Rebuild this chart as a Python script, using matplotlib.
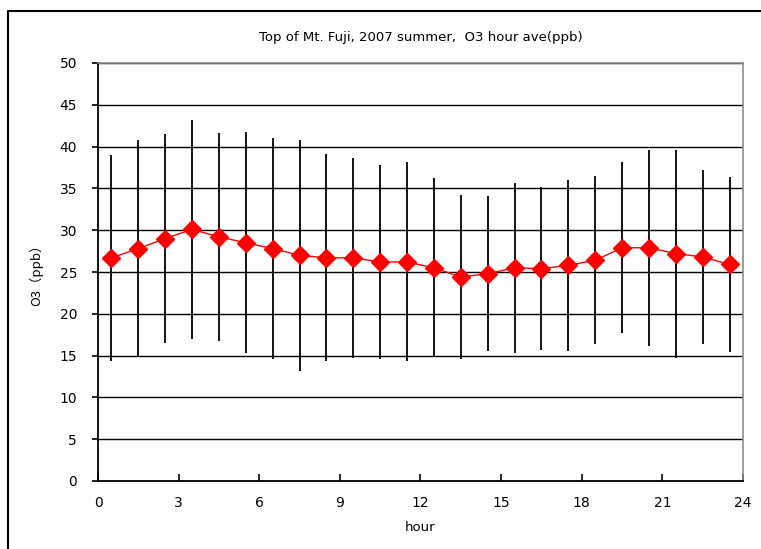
import numpy as np
import matplotlib
matplotlib.use('Agg')
import matplotlib.pyplot as plt
from matplotlib.lines import Line2D

# hourly O3 averages (ppb) and spread
hours = [0.5, 1.5, 2.5, 3.5, 4.5, 5.5, 6.5, 7.5, 8.5, 9.5, 10.5, 11.5,
         12.5, 13.5, 14.5, 15.5, 16.5, 17.5, 18.5, 19.5, 20.5, 21.5, 22.5, 23.5]
o3_ave = [26.7, 27.8, 29.0, 30.1, 29.2, 28.5, 27.8, 27.0, 26.7, 26.7, 26.2, 26.2,
          25.5, 24.4, 24.8, 25.5, 25.4, 25.8, 26.4, 27.9, 27.9, 27.2, 26.8, 25.9]
o3_sd = [12.3, 12.95, 12.55, 13.1, 12.4, 13.2, 13.25, 13.8, 12.4, 11.95, 11.65, 11.9,
         10.7, 9.85, 9.3, 10.15, 9.75, 10.2, 10.05, 10.25, 11.7, 12.45, 10.4, 10.5]

x_ticks = [0, 3, 6, 9, 12, 15, 18, 21, 24]
y_ticks = [0, 5, 10, 15, 20, 25, 30, 35, 40, 45, 50]

W, H = 761, 549
fig = plt.figure(figsize=(W / 100, H / 100), dpi=100)
ax = fig.add_axes([98 / W, 1 - 481 / H, (743 - 98) / W, (481 - 63) / H])

# chart area border (left + top)
fig.add_artist(Line2D([8 / W, 8 / W, 1.0], [0.0, 1 - 11 / H, 1 - 11 / H],
                      transform=fig.transFigure, color='black', lw=1.5))

ax.errorbar(hours, o3_ave, yerr=o3_sd, fmt='none', ecolor='black',
            elinewidth=1.3, capsize=0, zorder=3)
ax.plot(hours, o3_ave, color='red', lw=1, marker='D', ms=9,
        markerfacecolor='red', markeredgecolor='red', zorder=4)

ax.set_xlim(0, 24)
ax.set_ylim(0, 50)
ax.set_xticks(x_ticks)
ax.set_yticks(y_ticks)
ax.yaxis.grid(True, color='black', lw=1)
ax.set_axisbelow(True)

for side in ['top', 'right']:
    ax.spines[side].set_color('#8c8c8c')
    ax.spines[side].set_linewidth(1.2)
for side in ['left', 'bottom']:
    ax.spines[side].set_color('black')
    ax.spines[side].set_linewidth(1.3)

ax.tick_params(axis='x', direction='in', length=5, width=1.2, pad=11, labelsize=10)
ax.tick_params(axis='y', direction='out', length=4, width=1.2, pad=11, labelsize=10)

ax.set_title('Top of Mt. Fuji, 2007 summer,  O3 hour ave(ppb)', fontsize=9.5, pad=16)
ax.set_xlabel('hour', fontsize=9.5, labelpad=8)
ax.set_ylabel('O3（ppb）', fontsize=9.5, labelpad=12,
              family=['Noto Sans CJK JP', 'DejaVu Sans'])

fig.savefig('out.png', dpi=100)
